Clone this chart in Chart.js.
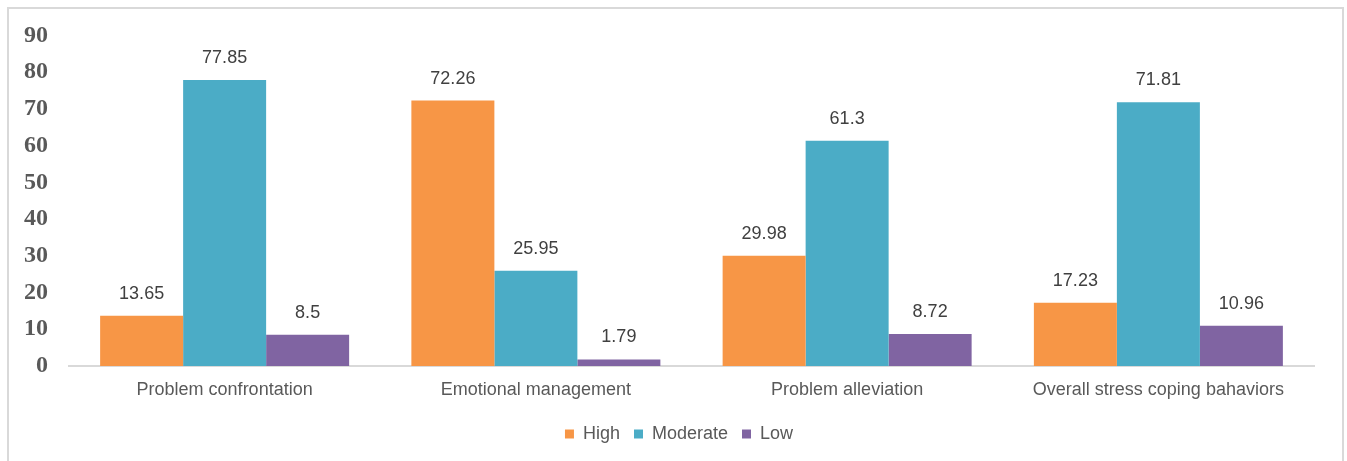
<!DOCTYPE html>
<html>
<head>
<meta charset="utf-8">
<script src="https://cdn.jsdelivr.net/npm/chart.js@4"></script>
<style>
  html, body { margin: 0; padding: 0; background: #fff; }
  #wrap { position: relative; width: 1347px; height: 461px; overflow: hidden; }
  #frame { position: absolute; left: 7px; top: 7px; width: 1337px; height: 470px; border: 2px solid #d9d9d9; box-sizing: border-box; }
  canvas { position: absolute; left: 0; top: 0; }
</style>
</head>
<body>
<div id="wrap">
  <div id="frame"></div>
  <canvas id="grafico" width="1347" height="461"></canvas>
</div>
<script>
// Categorías y valores (%)
const categorias = ['Problem confrontation', 'Emotional management', 'Problem alleviation', 'Overall stress coping bahaviors'];
const alto = [13.65, 72.26, 29.98, 17.23];
const moderado = [77.85, 25.95, 61.3, 71.81];
const bajo = [8.5, 1.79, 8.72, 10.96];
const ticksY = [0, 10, 20, 30, 40, 50, 60, 70, 80, 90];

const fuente = '"Liberation Sans", Arial, sans-serif';

// Etiquetas de valor encima de cada barra
const etiquetas = {
    id: 'etiquetas',
    afterDatasetsDraw(chart) {
        const ctx = chart.ctx;
        ctx.save();
        ctx.font = '18px ' + fuente;
        ctx.fillStyle = '#404040';
        ctx.textAlign = 'center';
        ctx.textBaseline = 'middle';
        chart.data.datasets.forEach((ds, i) => {
            chart.getDatasetMeta(i).data.forEach((bar, j) => {
                ctx.fillText(String(ds.data[j]), bar.x, bar.y - 22);
            });
        });
        ctx.restore();
    }
};

// La leyenda va centrada sobre todo el lienzo, no solo sobre el área sin relleno
const moverLeyenda = {
    id: 'moverLeyenda',
    afterLayout(chart) {
        chart.legend.left += 22;
        chart.legend.right += 22;
    }
};

const ctx = document.getElementById('grafico').getContext('2d');
new Chart(ctx, {
    type: 'bar',
    data: {
        labels: categorias,
        datasets: [
            { label: 'High', data: alto, backgroundColor: '#F79646' },
            { label: 'Moderate', data: moderado, backgroundColor: '#4BACC6' },
            { label: 'Low', data: bajo, backgroundColor: '#8064A2' }
        ]
    },
    options: {
        responsive: false,
        animation: false,
        layout: { padding: { top: 32, right: 33, bottom: 8, left: 0 } },
        datasets: { bar: { categoryPercentage: 0.8, barPercentage: 1.0, borderWidth: 0 } },
        plugins: {
            tooltip: { enabled: false },
            legend: {
                position: 'bottom',
                labels: {
                    boxWidth: 9,
                    boxHeight: 9,
                    padding: 14,
                    color: '#595959',
                    font: { family: fuente, size: 18 }
                }
            }
        },
        scales: {
            x: {
                grid: { display: false, drawTicks: false },
                border: { display: true, color: '#d9d9d9', width: 2 },
                ticks: {
                    color: '#595959',
                    padding: 13,
                    font: { family: fuente, size: 18 }
                },
                afterFit(scale) { scale.height = 45; }
            },
            y: {
                min: 0,
                max: 90,
                grid: { display: false, drawTicks: false },
                border: { display: false },
                afterBuildTicks(scale) { scale.ticks = ticksY.map(v => ({ value: v })); },
                ticks: {
                    color: '#595959',
                    padding: 21,
                    font: { family: '"Liberation Serif", "Times New Roman", serif', size: 24, weight: 'bold' }
                },
                afterFit(scale) { scale.width = 69; }
            }
        }
    },
    plugins: [etiquetas, moverLeyenda]
});
</script>
</body>
</html>
